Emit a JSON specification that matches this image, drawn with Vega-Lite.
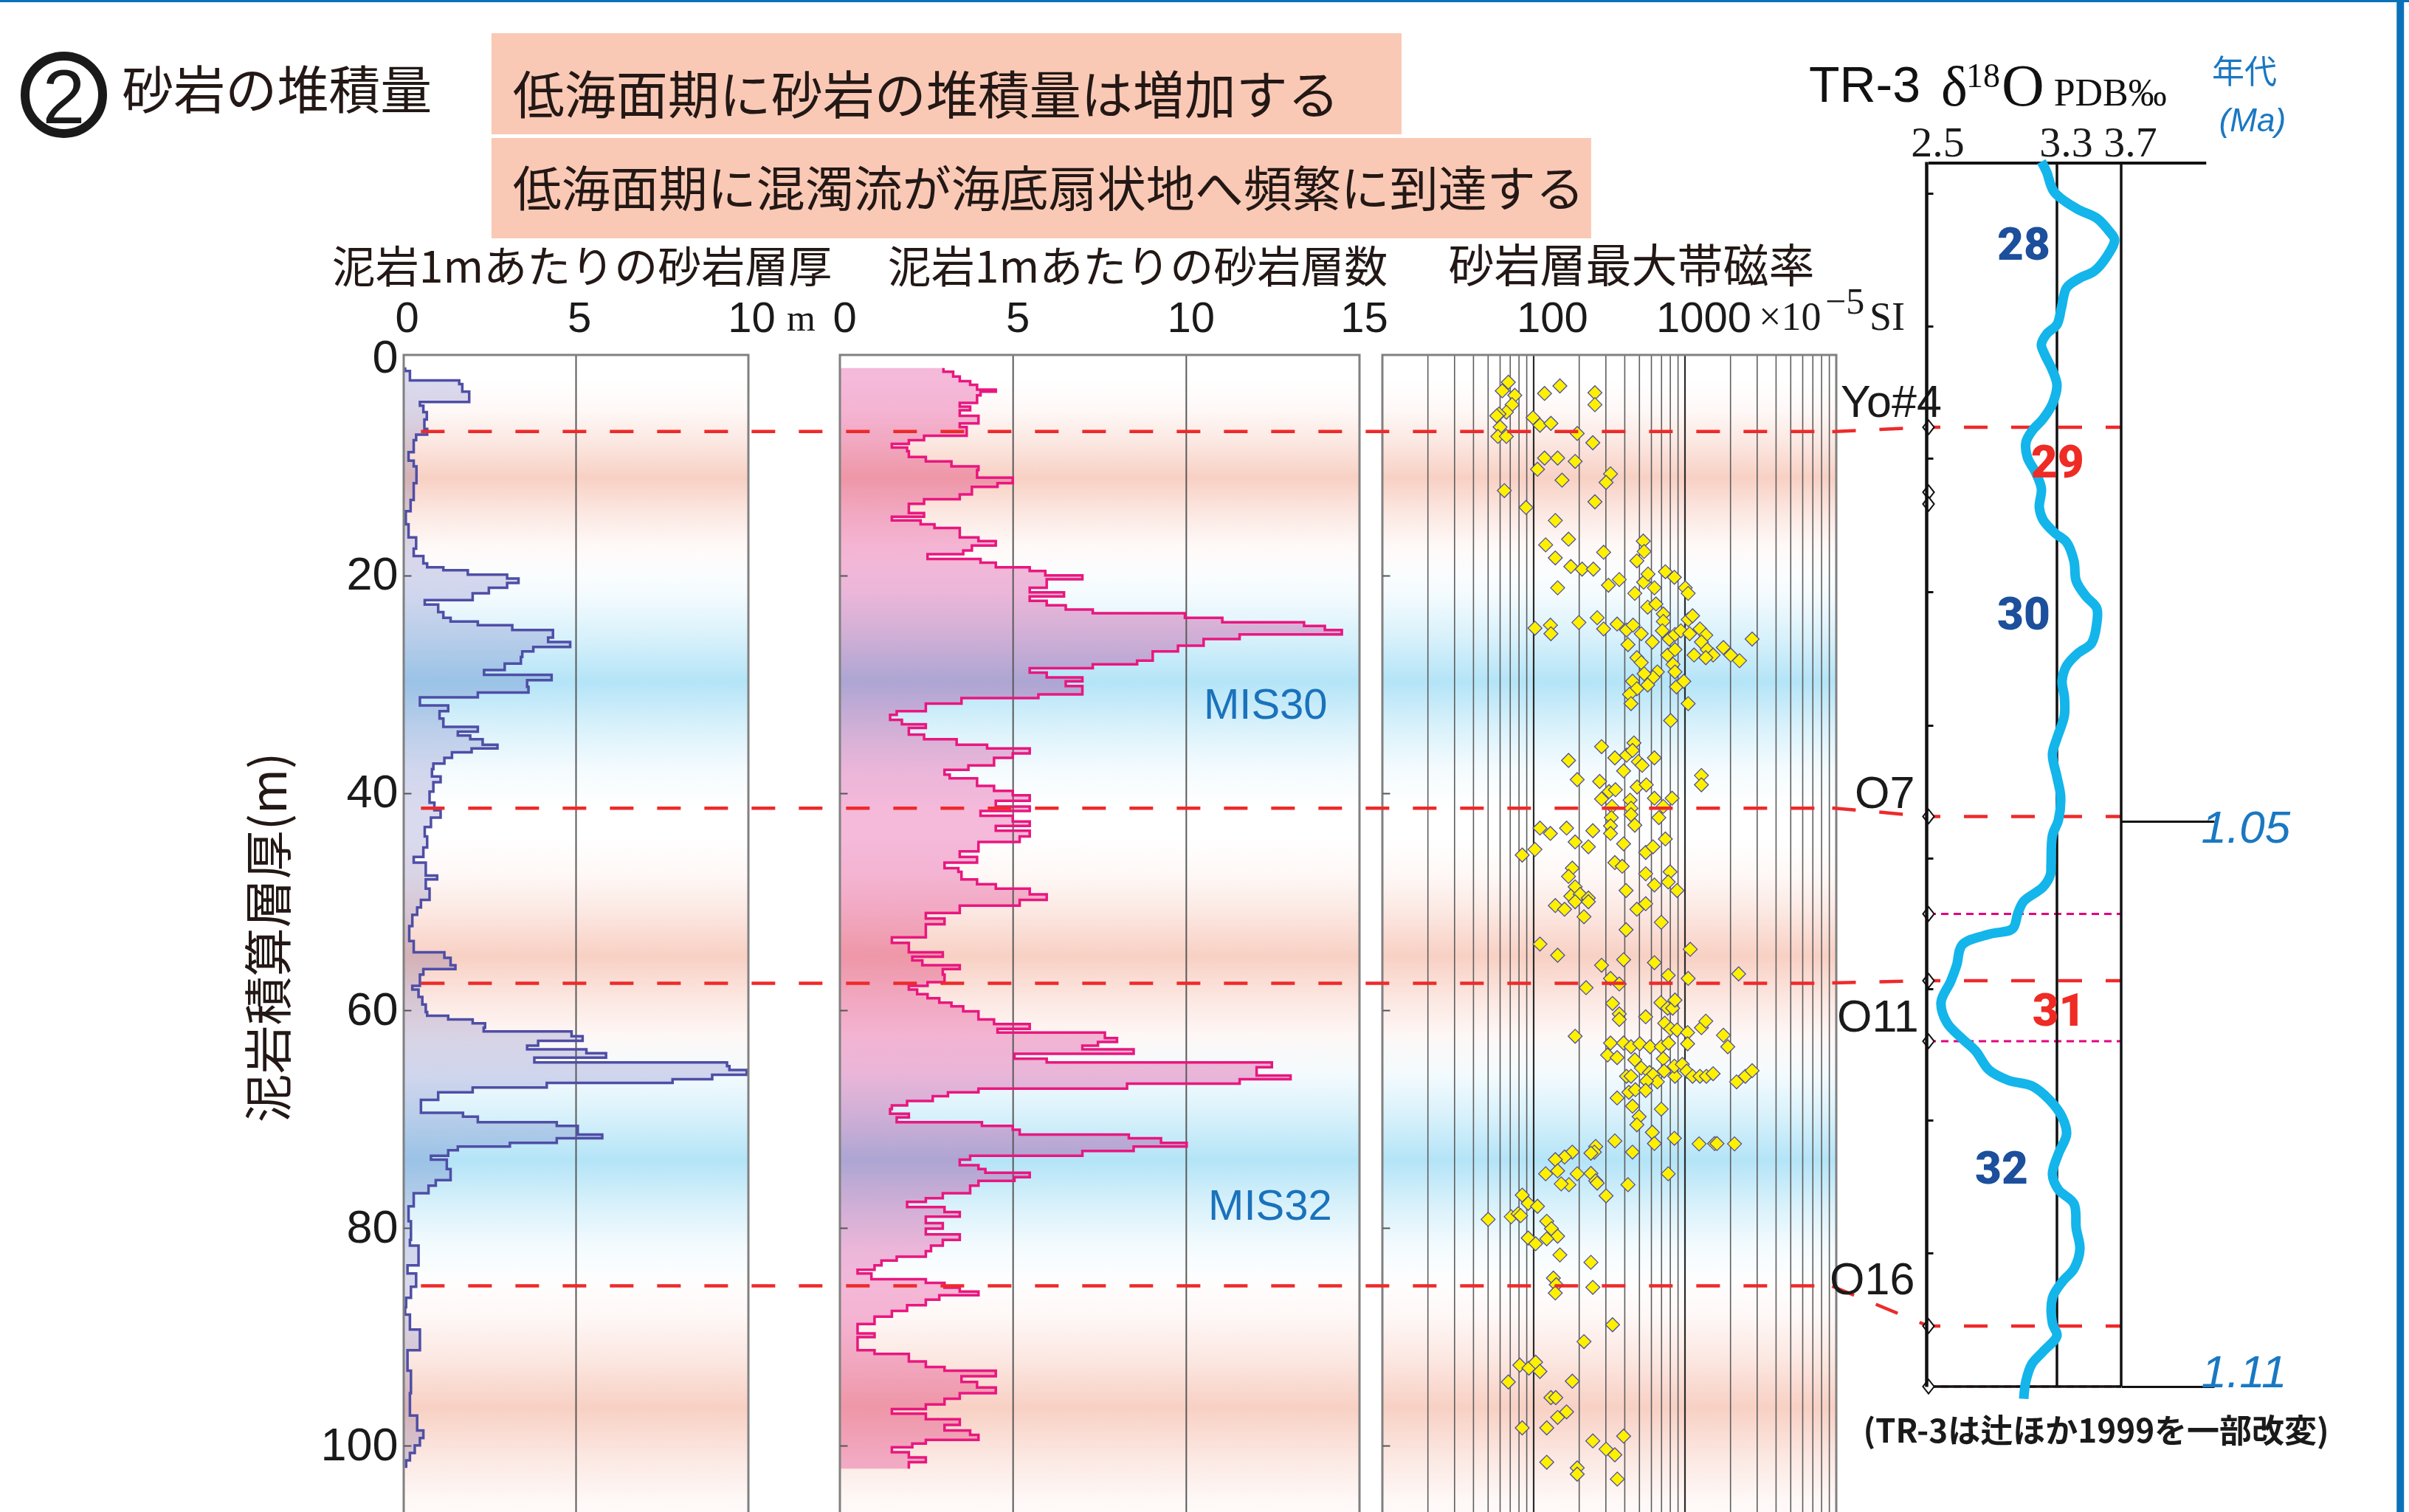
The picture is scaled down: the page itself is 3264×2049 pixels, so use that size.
{
  "$schema": "https://vega.github.io/schema/vega-lite/v6.json",
  "width": 3264,
  "height": 2049,
  "autosize": {"type": "none"},
  "padding": 0,
  "background": "#ffffff",
  "config": {
    "view": {"stroke": null},
    "axis": {"grid": false, "labelFlush": false, "labelOverlap": false, "labelBound": false, "titleFontWeight": "normal"}
  },
  "datasets": {
    "header": [
      {"line": 1, "text": "低海面期に砂岩の堆積量は増加する", "x0": 0.2040, "x1": 0.5818, "y0": 0.0220, "y1": 0.0888, "ty": 0.0757},
      {"line": 2, "text": "低海面期に混濁流が海底扇状地へ頻繁に到達する", "x0": 0.2040, "x1": 0.6605, "y0": 0.0913, "y1": 0.1576, "ty": 0.1367}
    ],
    "bands": [
      {"k": "pink", "d0": 2, "d1": 20},
      {"k": "blue", "d0": 18, "d1": 41.5},
      {"k": "pink", "d0": 44, "d1": 66},
      {"k": "blue", "d0": 62, "d1": 85.5},
      {"k": "pink", "d0": 84, "d1": 109}
    ],
    "p1": [
      {"d":0.86,"v":0.04},{"d":1.21,"v":0.18},{"d":2.07,"v":1.61},{"d":2.41,"v":1.7},{"d":3.1,"v":1.9},{"d":4.06,"v":0.47},{"d":4.4,"v":0.57},{"d":4.99,"v":0.67},{"d":5.67,"v":0.6},{"d":6.53,"v":0.68},{"d":7.05,"v":0.36},{"d":7.56,"v":0.29},{"d":8.66,"v":0.14},{"d":9.45,"v":0.29},{"d":9.97,"v":0.37},{"d":11.51,"v":0.29},{"d":13.06,"v":0.2},{"d":14.09,"v":0.06},{"d":15.3,"v":0.14},{"d":16.5,"v":0.36},{"d":17.53,"v":0.29},{"d":18.22,"v":0.57},{"d":18.9,"v":0.68},{"d":19.25,"v":1.15},{"d":19.52,"v":1.86},{"d":19.93,"v":3.0},{"d":20.28,"v":3.33},{"d":20.69,"v":3.0},{"d":21.14,"v":2.47},{"d":21.65,"v":2.0},{"d":22.27,"v":0.61},{"d":22.68,"v":1.0},{"d":23.37,"v":1.15},{"d":23.89,"v":1.36},{"d":24.23,"v":2.15},{"d":24.57,"v":3.15},{"d":25.02,"v":4.33},{"d":25.71,"v":4.19},{"d":26.12,"v":4.83},{"d":26.57,"v":3.76},{"d":26.98,"v":3.44},{"d":27.5,"v":3.4},{"d":28.11,"v":2.93},{"d":28.7,"v":2.33},{"d":29.14,"v":4.29},{"d":29.63,"v":3.58},{"d":30.24,"v":3.62},{"d":30.76,"v":2.15},{"d":31.21,"v":0.47},{"d":31.96,"v":1.29},{"d":32.48,"v":1.04},{"d":33.16,"v":1.15},{"d":33.92,"v":2.15},{"d":34.37,"v":1.57},{"d":34.71,"v":1.93},{"d":35.05,"v":2.29},{"d":35.57,"v":2.72},{"d":35.91,"v":1.97},{"d":36.26,"v":1.4},{"d":36.77,"v":1.18},{"d":37.29,"v":0.86},{"d":37.8,"v":0.82},{"d":38.49,"v":1.07},{"d":39.01,"v":0.86},{"d":39.87,"v":0.75},{"d":40.9,"v":0.89},{"d":41.58,"v":1.07},{"d":42.27,"v":0.79},{"d":43.13,"v":0.61},{"d":43.99,"v":0.68},{"d":45.02,"v":0.57},{"d":45.88,"v":0.29},{"d":46.4,"v":0.64},{"d":47.6,"v":0.97},{"d":47.94,"v":0.64},{"d":48.8,"v":0.75},{"d":49.83,"v":0.5},{"d":50.52,"v":0.39},{"d":51.2,"v":0.25},{"d":52.24,"v":0.16},{"d":53.61,"v":0.29},{"d":54.64,"v":1.18},{"d":55.16,"v":1.36},{"d":55.84,"v":1.5},{"d":56.19,"v":0.57},{"d":56.7,"v":0.47},{"d":57.73,"v":0.25},{"d":58.08,"v":0.43},{"d":58.76,"v":0.54},{"d":59.45,"v":0.64},{"d":60.14,"v":0.68},{"d":60.48,"v":1.29},{"d":60.82,"v":2.0},{"d":61.17,"v":2.36},{"d":61.58,"v":2.32},{"d":61.92,"v":4.87},{"d":62.37,"v":5.19},{"d":62.78,"v":3.9},{"d":63.23,"v":3.58},{"d":63.57,"v":5.3},{"d":63.92,"v":5.87},{"d":64.33,"v":3.79},{"d":64.78,"v":9.38},{"d":65.12,"v":9.45},{"d":65.46,"v":9.95},{"d":65.91,"v":8.95},{"d":66.32,"v":7.8},{"d":66.66,"v":4.15},{"d":67.08,"v":2.0},{"d":67.52,"v":1.0},{"d":68.21,"v":0.5},{"d":69.41,"v":1.72},{"d":69.76,"v":2.15},{"d":70.27,"v":4.44},{"d":70.61,"v":5.05},{"d":71.41,"v":5.76},{"d":71.75,"v":4.44},{"d":72.16,"v":3.08},{"d":72.5,"v":1.57},{"d":72.85,"v":1.29},{"d":73.36,"v":0.79},{"d":73.71,"v":1.25},{"d":74.57,"v":1.36},{"d":75.6,"v":0.93},{"d":76.11,"v":0.72},{"d":76.8,"v":0.29},{"d":78.0,"v":0.14},{"d":79.38,"v":0.21},{"d":81.09,"v":0.18},{"d":81.61,"v":0.43},{"d":83.43,"v":0.11},{"d":84.18,"v":0.36},{"d":85.39,"v":0.21},{"d":86.42,"v":0.07},{"d":87.28,"v":0.04},{"d":87.96,"v":0.18},{"d":89.34,"v":0.47},{"d":91.23,"v":0.11},{"d":93.12,"v":0.21},{"d":95.18,"v":0.18},{"d":97.24,"v":0.39},{"d":98.61,"v":0.57},{"d":99.3,"v":0.47},{"d":99.99,"v":0.32},{"d":100.67,"v":0.18},{"d":101.36,"v":0.07},{"d":102.05,"v":0.07}
    ],
    "p2": [
      {"d":0.93,"v":2.99},{"d":1.27,"v":3.27},{"d":1.72,"v":3.46},{"d":2.13,"v":3.76},{"d":2.48,"v":3.96},{"d":2.92,"v":4.5},{"d":3.1,"v":4.06},{"d":3.44,"v":3.96},{"d":4.13,"v":3.46},{"d":4.47,"v":3.76},{"d":4.81,"v":3.46},{"d":5.33,"v":4.0},{"d":6.02,"v":3.46},{"d":6.36,"v":3.66},{"d":7.15,"v":2.43},{"d":7.56,"v":1.99},{"d":7.91,"v":1.5},{"d":8.25,"v":1.94},{"d":8.59,"v":1.99},{"d":9.11,"v":2.48},{"d":9.52,"v":3.22},{"d":9.97,"v":4.0},{"d":10.31,"v":3.96},{"d":11.0,"v":4.99},{"d":11.52,"v":4.55},{"d":11.86,"v":3.81},{"d":12.55,"v":3.46},{"d":12.99,"v":2.43},{"d":13.41,"v":1.99},{"d":14.26,"v":2.43},{"d":14.61,"v":1.5},{"d":14.95,"v":2.33},{"d":15.3,"v":2.73},{"d":15.64,"v":3.46},{"d":16.5,"v":4.0},{"d":16.84,"v":4.5},{"d":17.25,"v":3.81},{"d":17.7,"v":3.56},{"d":18.04,"v":2.53},{"d":18.49,"v":4.06},{"d":18.83,"v":4.5},{"d":19.25,"v":5.48},{"d":19.59,"v":5.93},{"d":20.0,"v":7.0},{"d":20.35,"v":5.97},{"d":21.14,"v":5.48},{"d":21.55,"v":6.47},{"d":21.93,"v":5.48},{"d":22.34,"v":5.97},{"d":22.75,"v":6.52},{"d":23.13,"v":7.3},{"d":23.47,"v":9.96},{"d":23.89,"v":11.04},{"d":24.3,"v":13.4},{"d":24.64,"v":14.0},{"d":25.02,"v":14.49},{"d":25.43,"v":11.54},{"d":25.85,"v":10.5},{"d":26.46,"v":9.76},{"d":26.98,"v":9.03},{"d":27.84,"v":8.58},{"d":28.18,"v":7.3},{"d":28.53,"v":5.48},{"d":28.94,"v":5.97},{"d":29.38,"v":7.0},{"d":29.73,"v":6.52},{"d":30.17,"v":7.0},{"d":30.93,"v":5.73},{"d":31.28,"v":3.51},{"d":31.79,"v":2.48},{"d":32.48,"v":1.64},{"d":32.82,"v":1.45},{"d":33.27,"v":1.79},{"d":33.68,"v":2.48},{"d":34.02,"v":1.99},{"d":34.64,"v":2.43},{"d":35.05,"v":3.37},{"d":35.57,"v":4.25},{"d":35.91,"v":5.48},{"d":36.36,"v":4.99},{"d":36.77,"v":4.45},{"d":37.46,"v":3.71},{"d":37.87,"v":3.02},{"d":38.32,"v":3.17},{"d":38.66,"v":3.96},{"d":39.35,"v":4.45},{"d":39.8,"v":4.99},{"d":40.21,"v":5.48},{"d":40.73,"v":4.5},{"d":41.24,"v":5.48},{"d":41.65,"v":4.06},{"d":42.1,"v":4.99},{"d":42.62,"v":5.48},{"d":43.03,"v":4.5},{"d":43.47,"v":5.48},{"d":43.99,"v":5.19},{"d":44.51,"v":4.0},{"d":45.37,"v":3.46},{"d":45.88,"v":3.96},{"d":46.4,"v":3.02},{"d":46.91,"v":3.42},{"d":47.25,"v":3.51},{"d":47.94,"v":3.96},{"d":48.39,"v":4.5},{"d":48.8,"v":5.48},{"d":49.32,"v":5.97},{"d":49.83,"v":5.19},{"d":50.35,"v":3.46},{"d":51.03,"v":2.48},{"d":51.55,"v":3.02},{"d":52.07,"v":2.48},{"d":53.27,"v":1.5},{"d":53.78,"v":1.99},{"d":54.64,"v":2.97},{"d":55.05,"v":2.09},{"d":55.4,"v":2.38},{"d":55.84,"v":3.46},{"d":56.19,"v":2.97},{"d":56.7,"v":3.02},{"d":57.39,"v":2.53},{"d":57.73,"v":1.99},{"d":58.08,"v":2.23},{"d":58.49,"v":2.53},{"d":58.87,"v":2.87},{"d":59.28,"v":3.22},{"d":59.62,"v":3.56},{"d":60.07,"v":4.0},{"d":60.82,"v":4.45},{"d":61.24,"v":5.48},{"d":61.68,"v":4.55},{"d":62.03,"v":7.65},{"d":62.54,"v":8.0},{"d":62.89,"v":7.45},{"d":63.23,"v":7.0},{"d":63.57,"v":8.48},{"d":63.98,"v":5.04},{"d":64.43,"v":5.97},{"d":64.78,"v":12.47},{"d":65.22,"v":12.03},{"d":65.98,"v":13.01},{"d":66.32,"v":11.54},{"d":66.73,"v":8.29},{"d":67.18,"v":4.0},{"d":67.52,"v":3.12},{"d":67.87,"v":2.68},{"d":68.31,"v":1.94},{"d":68.73,"v":1.5},{"d":69.07,"v":1.45},{"d":69.48,"v":1.99},{"d":69.82,"v":1.64},{"d":70.27,"v":4.1},{"d":70.61,"v":4.99},{"d":70.96,"v":5.19},{"d":71.41,"v":8.34},{"d":71.75,"v":9.27},{"d":72.16,"v":10.01},{"d":72.5,"v":8.48},{"d":72.92,"v":7.0},{"d":73.36,"v":3.76},{"d":73.71,"v":3.46},{"d":74.22,"v":4.0},{"d":74.57,"v":4.2},{"d":74.91,"v":5.48},{"d":75.32,"v":5.04},{"d":75.66,"v":4.0},{"d":76.11,"v":3.76},{"d":76.8,"v":2.97},{"d":77.25,"v":2.48},{"d":77.59,"v":1.94},{"d":78.07,"v":3.02},{"d":78.52,"v":3.46},{"d":78.96,"v":2.48},{"d":79.55,"v":2.97},{"d":80.06,"v":2.48},{"d":80.58,"v":3.46},{"d":81.09,"v":2.97},{"d":81.61,"v":2.63},{"d":82.12,"v":2.48},{"d":82.64,"v":1.64},{"d":82.98,"v":1.2},{"d":83.43,"v":1.0},{"d":83.84,"v":0.51},{"d":84.18,"v":0.91},{"d":84.7,"v":2.48},{"d":85.04,"v":3.02},{"d":85.49,"v":3.46},{"d":85.83,"v":4.0},{"d":86.18,"v":2.87},{"d":86.59,"v":2.48},{"d":87.1,"v":1.94},{"d":87.62,"v":1.5},{"d":88.14,"v":1.0},{"d":88.82,"v":0.51},{"d":89.68,"v":1.0},{"d":90.02,"v":0.51},{"d":91.23,"v":1.0},{"d":91.57,"v":1.99},{"d":92.26,"v":2.48},{"d":92.77,"v":3.02},{"d":93.12,"v":4.5},{"d":93.63,"v":3.51},{"d":94.15,"v":3.96},{"d":94.66,"v":4.5},{"d":95.18,"v":3.46},{"d":95.69,"v":3.02},{"d":96.21,"v":2.48},{"d":96.65,"v":1.5},{"d":97.07,"v":2.48},{"d":97.58,"v":3.46},{"d":98.1,"v":3.02},{"d":98.61,"v":3.76},{"d":99.02,"v":4.0},{"d":99.47,"v":2.48},{"d":99.81,"v":2.09},{"d":100.16,"v":1.5},{"d":100.61,"v":1.99},{"d":101.09,"v":2.48},{"d":101.53,"v":1.99},{"d":102.12,"v":1.99}
    ],
    "p3": [
      {"m":68,"d":2.24},{"m":62,"d":3.03},{"m":75,"d":3.44},{"m":72,"d":4.3},{"m":66,"d":4.99},{"m":59,"d":5.16},{"m":57,"d":5.33},{"m":60,"d":6.36},{"m":58,"d":7.22},{"m":66,"d":7.22},{"m":118,"d":3.27},{"m":149,"d":2.58},{"m":254,"d":3.2},{"m":254,"d":4.3},{"m":99,"d":5.5},{"m":110,"d":6.19},{"m":130,"d":6.02},{"m":194,"d":6.95},{"m":246,"d":7.8},{"m":118,"d":9.21},{"m":144,"d":9.21},{"m":188,"d":9.52},{"m":106,"d":10.24},{"m":154,"d":11.24},{"m":322,"d":10.66},{"m":301,"d":11.45},{"m":64,"d":12.2},{"m":89,"d":13.75},{"m":254,"d":13.23},{"m":139,"d":14.95},{"m":170,"d":16.67},{"m":120,"d":17.19},{"m":139,"d":18.39},{"m":290,"d":17.87},{"m":530,"d":16.84},{"m":537,"d":17.8},{"m":481,"d":18.66},{"m":176,"d":19.18},{"m":209,"d":19.42},{"m":248,"d":19.42},{"m":144,"d":21.14},{"m":312,"d":20.9},{"m":368,"d":20.38},{"m":466,"d":21.65},{"m":533,"d":20.62},{"m":570,"d":19.87},{"m":628,"d":21.14},{"m":742,"d":19.66},{"m":851,"d":20.17},{"m":1004,"d":21.14},{"m":1050,"d":21.65},{"m":567,"d":22.92},{"m":643,"d":22.62},{"m":102,"d":24.85},{"m":129,"d":24.57},{"m":130,"d":25.36},{"m":199,"d":24.33},{"m":263,"d":23.89},{"m":290,"d":24.92},{"m":356,"d":24.47},{"m":411,"d":25.02},{"m":454,"d":24.57},{"m":514,"d":25.36},{"m":609,"d":26.12},{"m":420,"d":26.36},{"m":719,"d":23.54},{"m":719,"d":24.23},{"m":709,"d":25.09},{"m":786,"d":25.85},{"m":859,"d":25.43},{"m":939,"d":25.09},{"m":1050,"d":24.06},{"m":1123,"d":23.71},{"m":1074,"d":25.36},{"m":1256,"d":24.92},{"m":1373,"d":25.5},{"m":1284,"d":26.12},{"m":1403,"d":26.81},{"m":1535,"d":27.32},{"m":1373,"d":27.56},{"m":1148,"d":27.32},{"m":1794,"d":26.63},{"m":2006,"d":27.32},{"m":2293,"d":27.84},{"m":2779,"d":25.85},{"m":768,"d":27.32},{"m":859,"d":26.81},{"m":481,"d":27.56},{"m":514,"d":28.01},{"m":833,"d":28.18},{"m":859,"d":28.87},{"m":657,"d":28.87},{"m":615,"d":29.38},{"m":537,"d":29.04},{"m":567,"d":30.07},{"m":450,"d":29.73},{"m":481,"d":30.42},{"m":430,"d":30.93},{"m":440,"d":31.79},{"m":878,"d":30.24},{"m":982,"d":29.73},{"m":1050,"d":31.79},{"m":804,"d":33.34},{"m":460,"d":35.4},{"m":281,"d":35.74},{"m":170,"d":37.01},{"m":344,"d":36.77},{"m":411,"d":36.53},{"m":450,"d":36.09},{"m":492,"d":37.12},{"m":521,"d":37.46},{"m":628,"d":36.77},{"m":393,"d":37.97},{"m":194,"d":38.77},{"m":273,"d":38.94},{"m":315,"d":39.87},{"m":347,"d":39.7},{"m":483,"d":39.45},{"m":555,"d":39.25},{"m":1284,"d":38.39},{"m":1284,"d":39.25},{"m":281,"d":40.55},{"m":329,"d":41.24},{"m":434,"d":40.66},{"m":440,"d":41.41},{"m":628,"d":40.48},{"m":719,"d":41.24},{"m":822,"d":40.48},{"m":326,"d":42.27},{"m":440,"d":42.0},{"m":672,"d":42.27},{"m":466,"d":42.96},{"m":322,"d":43.03},{"m":322,"d":43.72},{"m":110,"d":43.23},{"m":129,"d":43.72},{"m":165,"d":43.23},{"m":188,"d":44.5},{"m":246,"d":43.47},{"m":230,"d":44.95},{"m":393,"d":44.68},{"m":84,"d":45.71},{"m":102,"d":45.19},{"m":742,"d":44.23},{"m":550,"d":45.47},{"m":615,"d":44.95},{"m":344,"d":46.4},{"m":385,"d":46.74},{"m":180,"d":46.91},{"m":170,"d":47.67},{"m":550,"d":47.43},{"m":797,"d":47.25},{"m":628,"d":48.46},{"m":775,"d":48.18},{"m":886,"d":48.97},{"m":188,"d":48.63},{"m":176,"d":49.49},{"m":203,"d":49.32},{"m":188,"d":50.0},{"m":230,"d":49.66},{"m":230,"d":50.0},{"m":139,"d":50.35},{"m":160,"d":50.69},{"m":408,"d":48.97},{"m":481,"d":50.69},{"m":550,"d":50.18},{"m":215,"d":51.38},{"m":697,"d":51.89},{"m":408,"d":52.58},
      {"m":110,"d":53.89},{"m":144,"d":54.92},{"m":1083,"d":54.37},{"m":281,"d":55.84},{"m":393,"d":55.33},{"m":628,"d":55.6},{"m":322,"d":57.05},{"m":368,"d":57.56},{"m":222,"d":57.9},{"m":775,"d":56.77},{"m":1050,"d":57.05},{"m":2263,"d":56.63},{"m":332,"d":59.35},{"m":368,"d":60.31},{"m":368,"d":60.82},{"m":550,"d":60.58},{"m":693,"d":59.28},{"m":768,"d":59.79},{"m":829,"d":59.79},{"m":859,"d":59.04},{"m":188,"d":62.37},{"m":735,"d":61.17},{"m":804,"d":61.68},{"m":886,"d":61.79},{"m":1041,"d":62.03},{"m":1284,"d":61.58},{"m":1373,"d":60.98},{"m":1794,"d":62.27},{"m":1918,"d":63.33},{"m":322,"d":62.99},{"m":393,"d":62.99},{"m":440,"d":63.33},{"m":503,"d":63.06},{"m":588,"d":63.33},{"m":697,"d":63.33},{"m":779,"d":62.99},{"m":1041,"d":63.06},{"m":308,"d":64.09},{"m":356,"d":64.33},{"m":466,"d":64.53},{"m":719,"d":64.43},{"m":514,"d":65.29},{"m":583,"d":65.7},{"m":615,"d":65.91},{"m":728,"d":65.57},{"m":859,"d":66.05},{"m":851,"d":65.12},{"m":960,"d":64.95},{"m":1027,"d":65.57},{"m":1123,"d":66.05},{"m":1256,"d":66.05},{"m":1385,"d":66.05},{"m":1535,"d":65.81},{"m":2193,"d":66.56},{"m":2507,"d":66.05},{"m":2779,"d":65.53},{"m":411,"d":66.05},{"m":440,"d":66.05},{"m":657,"d":66.56},{"m":557,"d":66.49},{"m":426,"d":67.52},{"m":470,"d":67.28},{"m":550,"d":67.35},{"m":356,"d":68.04},{"m":450,"d":68.79},{"m":697,"d":69.07},{"m":498,"d":69.76},{"m":481,"d":70.51},{"m":609,"d":71.2},{"m":628,"d":72.23},{"m":851,"d":71.75},{"m":344,"d":71.99},{"m":1239,"d":72.26},{"m":1570,"d":72.23},{"m":1627,"d":72.23},{"m":2125,"d":72.26},{"m":450,"d":73.02},{"m":257,"d":72.5},{"m":252,"d":73.02},{"m":239,"d":73.12},{"m":180,"d":73.02},{"m":160,"d":73.47},{"m":139,"d":73.71},{"m":144,"d":74.74},{"m":120,"d":75.01},{"m":194,"d":75.01},{"m":239,"d":74.98},{"m":257,"d":75.66},{"m":263,"d":75.87},{"m":171,"d":76.01},{"m":152,"d":75.94},{"m":775,"d":75.01},{"m":420,"d":76.01},{"m":301,"d":77.04},{"m":84,"d":76.97},{"m":92,"d":77.73},{"m":106,"d":78.0},{"m":50,"d":79.2},{"m":71,"d":78.96},{"m":79,"d":78.69},{"m":82,"d":78.86},{"m":122,"d":79.38},{"m":131,"d":80.06},{"m":144,"d":80.75},{"m":122,"d":80.99},{"m":92,"d":80.92},{"m":103,"d":81.44},{"m":149,"d":82.47},{"m":239,"d":83.15},{"m":135,"d":84.6},{"m":141,"d":85.21},{"m":139,"d":85.97},{"m":246,"d":85.45},{"m":332,"d":88.89},{"m":215,"d":90.44},{"m":81,"d":92.6},{"m":93,"d":92.88},{"m":103,"d":92.33},{"m":110,"d":93.18},{"m":68,"d":94.15},{"m":180,"d":94.08},{"m":130,"d":95.59},{"m":140,"d":95.59},{"m":144,"d":97.41},{"m":165,"d":96.9},{"m":84,"d":98.37},{"m":122,"d":98.37},{"m":246,"d":99.57},{"m":301,"d":100.33},{"m":344,"d":100.85},{"m":393,"d":99.13},{"m":122,"d":101.53},{"m":194,"d":102.05},{"m":194,"d":102.63},{"m":357,"d":103.08}
    ],
    "logGrid": [
      {"g":20},{"g":30},{"g":40},{"g":50},{"g":60},{"g":70},{"g":80},{"g":90},{"g":100},
      {"g":200},{"g":300},{"g":400},{"g":500},{"g":600},{"g":700},{"g":800},{"g":900},{"g":1000},
      {"g":2000},{"g":3000},{"g":4000},{"g":5000},{"g":6000},{"g":7000},{"g":8000},{"g":9000}
    ],
    "mispanel": [
      {"n": "MIS30", "d": 32.0, "v": 12.29},
      {"n": "MIS32", "d": 78.1, "v": 12.42}
    ],
    "tephra": [
      {"t": "Yo#4", "d": 6.77, "a": 1.00819, "a0": 1.00866, "lx": 1.953, "la": 1.0071},
      {"t": "O7", "d": 41.4, "a": 1.0495, "a0": 1.0486, "lx": 2.04, "la": 1.0486},
      {"t": "O11", "d": 57.49, "a": 1.06693, "a0": 1.06717, "lx": 1.93, "la": 1.0723},
      {"t": "O16", "d": 85.32, "a": 1.10358, "a0": 1.09935, "lx": 1.884, "la": 1.1002}
    ],
    "ties": [
      {"a": 1.00819}, {"a": 1.01509}, {"a": 1.01634}, {"a": 1.0495}, {"a": 1.05984},
      {"a": 1.06693}, {"a": 1.07335}, {"a": 1.10358}, {"a": 1.11}
    ],
    "dots": [{"a": 1.05984}, {"a": 1.07335}, {"a": 1.11}],
    "mis": [
      {"n": "28", "a": 0.9889, "x": 3.093, "k": "interglacial"},
      {"n": "29", "a": 1.012, "x": 3.303, "k": "glacial"},
      {"n": "30", "a": 1.0282, "x": 3.093, "k": "interglacial"},
      {"n": "31", "a": 1.0702, "x": 3.312, "k": "glacial"},
      {"n": "32", "a": 1.087, "x": 2.955, "k": "interglacial"}
    ],
    "d18o": [
      {"o":3.203,"a":0.98},{"o":3.236,"a":0.9811},{"o":3.282,"a":0.9832},{"o":3.424,"a":0.985},{"o":3.548,"a":0.986},{"o":3.626,"a":0.9874},{"o":3.659,"a":0.9883},{"o":3.613,"a":0.99},{"o":3.534,"a":0.9916},{"o":3.438,"a":0.9924},{"o":3.36,"a":0.9934},{"o":3.328,"a":0.9955},{"o":3.3,"a":0.9973},{"o":3.236,"a":0.9983},{"o":3.203,"a":0.9994},{"o":3.222,"a":1.0004},{"o":3.268,"a":1.002},{"o":3.3,"a":1.0037},{"o":3.272,"a":1.0057},{"o":3.213,"a":1.0073},{"o":3.144,"a":1.0086},{"o":3.107,"a":1.0098},{"o":3.116,"a":1.0114},{"o":3.167,"a":1.013},{"o":3.203,"a":1.0147},{"o":3.19,"a":1.0167},{"o":3.213,"a":1.018},{"o":3.286,"a":1.0194},{"o":3.36,"a":1.0204},{"o":3.406,"a":1.0224},{"o":3.42,"a":1.0245},{"o":3.479,"a":1.0261},{"o":3.548,"a":1.0274},{"o":3.548,"a":1.029},{"o":3.516,"a":1.0311},{"o":3.429,"a":1.0322},{"o":3.36,"a":1.0335},{"o":3.332,"a":1.0351},{"o":3.346,"a":1.0368},{"o":3.346,"a":1.0388},{"o":3.3,"a":1.0412},{"o":3.272,"a":1.0429},{"o":3.3,"a":1.0453},{"o":3.323,"a":1.0474},{"o":3.309,"a":1.0499},{"o":3.272,"a":1.0515},{"o":3.263,"a":1.0547},{"o":3.259,"a":1.0557},{"o":3.213,"a":1.057},{"o":3.093,"a":1.0585},{"o":3.056,"a":1.0598},{"o":3.024,"a":1.0614},{"o":2.877,"a":1.062},{"o":2.711,"a":1.0631},{"o":2.675,"a":1.0653},{"o":2.638,"a":1.067},{"o":2.578,"a":1.0692},{"o":2.615,"a":1.0714},{"o":2.711,"a":1.0731},{"o":2.794,"a":1.0744},{"o":2.877,"a":1.0764},{"o":2.997,"a":1.0775},{"o":3.144,"a":1.0781},{"o":3.249,"a":1.0795},{"o":3.332,"a":1.0814},{"o":3.36,"a":1.0832},{"o":3.309,"a":1.0853},{"o":3.272,"a":1.0875},{"o":3.309,"a":1.0891},{"o":3.406,"a":1.0906},{"o":3.42,"a":1.0932},{"o":3.443,"a":1.0954},{"o":3.406,"a":1.0975},{"o":3.332,"a":1.0989},{"o":3.272,"a":1.1006},{"o":3.272,"a":1.1033},{"o":3.3,"a":1.1046},{"o":3.213,"a":1.1063},{"o":3.144,"a":1.1076},{"o":3.107,"a":1.1094},{"o":3.093,"a":1.1113}
    ]
  },
  "layer": [
    {
      "data": {"values": [{}]},
      "mark": {"type": "rule", "stroke": "#0b72b9", "strokeWidth": 3},
      "encoding": {
        "x": {"datum": 0, "type": "quantitative", "scale": {"domain": [0, 1], "range": [0, 3264], "nice": false, "zero": false}, "axis": null},
        "x2": {"datum": 1},
        "y": {"datum": 0.0007, "type": "quantitative", "scale": {"domain": [0, 1], "range": [0, 2049], "nice": false, "zero": false}, "axis": null}
      }
    },
    {
      "data": {"values": [{}]},
      "mark": {"type": "rule", "stroke": "#0b72b9", "strokeWidth": 10},
      "encoding": {
        "x": {"datum": 0.9964, "type": "quantitative", "scale": {"domain": [0, 1], "range": [0, 3264], "nice": false, "zero": false}, "axis": null},
        "y": {"datum": 0, "type": "quantitative", "scale": {"domain": [0, 1], "range": [0, 2049], "nice": false, "zero": false}, "axis": null},
        "y2": {"datum": 1}
      }
    },
    {
      "data": {"name": "header"},
      "mark": {"type": "rect", "fill": "#fac9b5"},
      "encoding": {
        "x": {"field": "x0", "type": "quantitative", "scale": {"domain": [0, 1], "range": [0, 3264], "nice": false, "zero": false}, "axis": null},
        "x2": {"field": "x1"},
        "y": {"field": "y0", "type": "quantitative", "scale": {"domain": [0, 1], "range": [0, 2049], "nice": false, "zero": false}, "axis": null},
        "y2": {"field": "y1"}
      }
    },
    {
      "data": {"name": "header"},
      "transform": [{"filter": "datum.line == 1"}],
      "mark": {"type": "text", "align": "left", "baseline": "alphabetic", "dx": 29, "font": "Noto Sans CJK JP, sans-serif", "fontSize": 70, "fill": "#231815"},
      "encoding": {
        "x": {"field": "x0", "type": "quantitative", "scale": {"domain": [0, 1], "range": [0, 3264], "nice": false, "zero": false}, "axis": null},
        "y": {"field": "ty", "type": "quantitative", "scale": {"domain": [0, 1], "range": [0, 2049], "nice": false, "zero": false}, "axis": null},
        "text": {"field": "text"}
      }
    },
    {
      "data": {"name": "header"},
      "transform": [{"filter": "datum.line == 2"}],
      "mark": {"type": "text", "align": "left", "baseline": "alphabetic", "dx": 29, "font": "Noto Sans CJK JP, sans-serif", "fontSize": 66, "fill": "#231815"},
      "encoding": {
        "x": {"field": "x0", "type": "quantitative", "scale": {"domain": [0, 1], "range": [0, 3264], "nice": false, "zero": false}, "axis": null},
        "y": {"field": "ty", "type": "quantitative", "scale": {"domain": [0, 1], "range": [0, 2049], "nice": false, "zero": false}, "axis": null},
        "text": {"field": "text"}
      }
    },
    {
      "data": {"values": [{}]},
      "mark": {"type": "point", "shape": "circle", "filled": false, "stroke": "#1a1a1a", "strokeWidth": 12, "size": 11025, "opacity": 1},
      "encoding": {
        "x": {"datum": 0.0265, "type": "quantitative", "scale": {"domain": [0, 1], "range": [0, 3264], "nice": false, "zero": false}, "axis": null},
        "y": {"datum": 0.0627, "type": "quantitative", "scale": {"domain": [0, 1], "range": [0, 2049], "nice": false, "zero": false}, "axis": null}
      }
    },
    {
      "data": {"values": [{}]},
      "mark": {"type": "text", "text": "2", "align": "center", "baseline": "alphabetic", "font": "Liberation Sans, Arial, sans-serif", "fontSize": 104, "fill": "#1a1a1a"},
      "encoding": {
        "x": {"datum": 0.0265, "type": "quantitative", "scale": {"domain": [0, 1], "range": [0, 3264], "nice": false, "zero": false}, "axis": null},
        "y": {"datum": 0.0815, "type": "quantitative", "scale": {"domain": [0, 1], "range": [0, 2049], "nice": false, "zero": false}, "axis": null}
      }
    },
    {
      "data": {"values": [{}]},
      "mark": {"type": "text", "text": "砂岩の堆積量", "align": "left", "baseline": "alphabetic", "font": "Noto Sans CJK JP, sans-serif", "fontSize": 70, "fill": "#231815"},
      "encoding": {
        "x": {"datum": 0.0506, "type": "quantitative", "scale": {"domain": [0, 1], "range": [0, 3264], "nice": false, "zero": false}, "axis": null},
        "y": {"datum": 0.0722, "type": "quantitative", "scale": {"domain": [0, 1], "range": [0, 2049], "nice": false, "zero": false}, "axis": null}
      }
    },

    {
      "data": {"name": "bands"},
      "transform": [{"filter": "datum.k == 'pink'"}],
      "mark": {"type": "rect", "fill": {"gradient": "linear", "x1": 0, "y1": 0, "x2": 0, "y2": 1, "stops": [{"offset": 0, "color": "rgba(248,208,196,0)"}, {"offset": 0.16, "color": "rgba(248,208,196,0.15)"}, {"offset": 0.32, "color": "rgba(248,208,196,0.5)"}, {"offset": 0.5, "color": "rgba(248,208,196,1)"}, {"offset": 0.68, "color": "rgba(248,208,196,0.5)"}, {"offset": 0.84, "color": "rgba(248,208,196,0.15)"}, {"offset": 1, "color": "rgba(248,208,196,0)"}]}},
      "encoding": {
        "x": {"datum": 0, "type": "quantitative", "scale": {"domain": [0, 10], "range": [547, 1014], "nice": false, "zero": false}, "axis": null},
        "x2": {"datum": 10},
        "y": {"field": "d0", "type": "quantitative", "scale": {"domain": [0, 100], "range": [485, 1959], "nice": false, "zero": false}, "axis": null},
        "y2": {"field": "d1"}
      }
    },
    {
      "data": {"name": "bands"},
      "transform": [{"filter": "datum.k == 'blue'"}],
      "mark": {"type": "rect", "fill": {"gradient": "linear", "x1": 0, "y1": 0, "x2": 0, "y2": 1, "stops": [{"offset": 0, "color": "rgba(180,228,247,0)"}, {"offset": 0.16, "color": "rgba(180,228,247,0.15)"}, {"offset": 0.32, "color": "rgba(180,228,247,0.5)"}, {"offset": 0.5, "color": "rgba(180,228,247,1)"}, {"offset": 0.68, "color": "rgba(180,228,247,0.5)"}, {"offset": 0.84, "color": "rgba(180,228,247,0.15)"}, {"offset": 1, "color": "rgba(180,228,247,0)"}]}},
      "encoding": {
        "x": {"datum": 0, "type": "quantitative", "scale": {"domain": [0, 10], "range": [547, 1014], "nice": false, "zero": false}, "axis": null},
        "x2": {"datum": 10},
        "y": {"field": "d0", "type": "quantitative", "scale": {"domain": [0, 100], "range": [485, 1959], "nice": false, "zero": false}, "axis": null},
        "y2": {"field": "d1"}
      }
    },
    {
      "data": {"name": "p1"},
      "mark": {"type": "area", "orient": "horizontal", "interpolate": "step-before", "fill": "#dadaee", "blend": "multiply"},
      "encoding": {
        "y": {"field": "d", "type": "quantitative", "scale": {"domain": [0, 100], "range": [485, 1959], "nice": false, "zero": false}, "axis": null},
        "x": {"field": "v", "type": "quantitative", "stack": null, "scale": {"domain": [0, 10], "range": [547, 1014], "nice": false, "zero": false}, "axis": null},
        "x2": {"datum": 0}
      }
    },
    {
      "data": {"values": [{}]},
      "mark": {"type": "rule", "stroke": "#5a5a5a", "strokeWidth": 2},
      "encoding": {
        "x": {"datum": 5, "type": "quantitative", "scale": {"domain": [0, 10], "range": [547, 1014], "nice": false, "zero": false}, "axis": null},
        "y": {"datum": -0.27, "type": "quantitative", "scale": {"domain": [0, 100], "range": [485, 1959], "nice": false, "zero": false},
              "axis": {"orient": "right", "offset": -2717, "values": [20, 40, 60, 80, 100], "domain": false, "ticks": true, "tickSize": 10, "tickWidth": 2, "tickColor": "#555555", "labels": false, "title": null, "zindex": 1}},
        "y2": {"datum": 112}
      }
    },
    {
      "data": {"name": "p1"},
      "mark": {"type": "line", "interpolate": "step-before", "stroke": "#4e4ea6", "strokeWidth": 3.5},
      "encoding": {
        "y": {"field": "d", "type": "quantitative", "scale": {"domain": [0, 100], "range": [485, 1959], "nice": false, "zero": false}, "axis": null},
        "x": {"field": "v", "type": "quantitative", "scale": {"domain": [0, 10], "range": [547, 1014], "nice": false, "zero": false}, "axis": null},
        "order": {"field": "d", "type": "quantitative"}
      }
    },
    {
      "data": {"values": [{}]},
      "mark": {"type": "rect", "filled": false, "stroke": "#808080", "strokeWidth": 3},
      "encoding": {
        "x": {"datum": 0, "type": "quantitative", "scale": {"domain": [0, 10], "range": [547, 1014], "nice": false, "zero": false},
              "axis": {"orient": "top", "offset": -432, "values": [0, 5, 10], "format": "d", "domain": false, "ticks": false, "labelPadding": 0, "labelBaseline": "middle", "labelAlign": "center", "labelOffset": 4, "labelFont": "Liberation Sans, Arial, sans-serif", "labelFontSize": 58, "labelColor": "#1a1a1a",
                       "title": "泥岩1mあたりの砂岩層厚", "titleFont": "Noto Sans CJK JP, sans-serif", "titleFontSize": 59, "titleColor": "#231815", "titleX": 788, "titleY": -50, "titleAlign": "center", "titleBaseline": "alphabetic", "titleAngle": 0}},
        "x2": {"datum": 10},
        "y": {"datum": -0.27, "type": "quantitative", "scale": {"domain": [0, 100], "range": [485, 1959], "nice": false, "zero": false},
              "axis": {"orient": "left", "offset": -547, "values": [0, 20, 40, 60, 80, 100], "format": "d", "domain": false, "ticks": false, "labelPadding": 8, "labelAlign": "right", "labelBaseline": "middle", "labelFont": "Liberation Sans, Arial, sans-serif", "labelFontSize": 63, "labelColor": "#1a1a1a",
                       "title": "泥岩積算層厚(m)", "titleFont": "Noto Sans CJK JP, sans-serif", "titleFontSize": 66, "titleColor": "#231815", "titleAngle": -90, "titleX": -180, "titleY": 1270, "titleAlign": "center", "titleBaseline": "middle"}},
        "y2": {"datum": 112}
      }
    },
    {
      "data": {"values": [{}]},
      "mark": {"type": "text", "text": "m", "align": "left", "baseline": "alphabetic", "dx": 52, "font": "Liberation Serif, DejaVu Serif, serif", "fontSize": 50, "fill": "#1a1a1a"},
      "encoding": {
        "x": {"datum": 10, "type": "quantitative", "scale": {"domain": [0, 10], "range": [547, 1014], "nice": false, "zero": false}, "axis": null},
        "y": {"datum": -2.51, "type": "quantitative", "scale": {"domain": [0, 100], "range": [485, 1959], "nice": false, "zero": false}, "axis": null}
      }
    },

    {
      "data": {"name": "bands"},
      "transform": [{"filter": "datum.k == 'pink'"}],
      "mark": {"type": "rect", "fill": {"gradient": "linear", "x1": 0, "y1": 0, "x2": 0, "y2": 1, "stops": [{"offset": 0, "color": "rgba(248,208,196,0)"}, {"offset": 0.16, "color": "rgba(248,208,196,0.15)"}, {"offset": 0.32, "color": "rgba(248,208,196,0.5)"}, {"offset": 0.5, "color": "rgba(248,208,196,1)"}, {"offset": 0.68, "color": "rgba(248,208,196,0.5)"}, {"offset": 0.84, "color": "rgba(248,208,196,0.15)"}, {"offset": 1, "color": "rgba(248,208,196,0)"}]}},
      "encoding": {
        "x": {"datum": 0, "type": "quantitative", "scale": {"domain": [0, 15], "range": [1138, 1842], "nice": false, "zero": false}, "axis": null},
        "x2": {"datum": 15},
        "y": {"field": "d0", "type": "quantitative", "scale": {"domain": [0, 100], "range": [485, 1959], "nice": false, "zero": false}, "axis": null},
        "y2": {"field": "d1"}
      }
    },
    {
      "data": {"name": "bands"},
      "transform": [{"filter": "datum.k == 'blue'"}],
      "mark": {"type": "rect", "fill": {"gradient": "linear", "x1": 0, "y1": 0, "x2": 0, "y2": 1, "stops": [{"offset": 0, "color": "rgba(180,228,247,0)"}, {"offset": 0.16, "color": "rgba(180,228,247,0.15)"}, {"offset": 0.32, "color": "rgba(180,228,247,0.5)"}, {"offset": 0.5, "color": "rgba(180,228,247,1)"}, {"offset": 0.68, "color": "rgba(180,228,247,0.5)"}, {"offset": 0.84, "color": "rgba(180,228,247,0.15)"}, {"offset": 1, "color": "rgba(180,228,247,0)"}]}},
      "encoding": {
        "x": {"datum": 0, "type": "quantitative", "scale": {"domain": [0, 15], "range": [1138, 1842], "nice": false, "zero": false}, "axis": null},
        "x2": {"datum": 15},
        "y": {"field": "d0", "type": "quantitative", "scale": {"domain": [0, 100], "range": [485, 1959], "nice": false, "zero": false}, "axis": null},
        "y2": {"field": "d1"}
      }
    },
    {
      "data": {"name": "p2"},
      "mark": {"type": "area", "orient": "horizontal", "interpolate": "step-before", "fill": "#f5b9da", "blend": "multiply"},
      "encoding": {
        "y": {"field": "d", "type": "quantitative", "scale": {"domain": [0, 100], "range": [485, 1959], "nice": false, "zero": false}, "axis": null},
        "x": {"field": "v", "type": "quantitative", "stack": null, "scale": {"domain": [0, 15], "range": [1138, 1842], "nice": false, "zero": false}, "axis": null},
        "x2": {"datum": 0}
      }
    },
    {
      "data": {"values": [{"g": 5}, {"g": 10}]},
      "mark": {"type": "rule", "stroke": "#5a5a5a", "strokeWidth": 2},
      "encoding": {
        "x": {"field": "g", "type": "quantitative", "scale": {"domain": [0, 15], "range": [1138, 1842], "nice": false, "zero": false}, "axis": null},
        "y": {"datum": -0.27, "type": "quantitative", "scale": {"domain": [0, 100], "range": [485, 1959], "nice": false, "zero": false},
              "axis": {"orient": "right", "offset": -2126, "values": [20, 40, 60, 80, 100], "domain": false, "ticks": true, "tickSize": 10, "tickWidth": 2, "tickColor": "#555555", "labels": false, "title": null, "zindex": 1}},
        "y2": {"datum": 112}
      }
    },
    {
      "data": {"name": "p2"},
      "mark": {"type": "line", "interpolate": "step-before", "stroke": "#e8177f", "strokeWidth": 3.5},
      "encoding": {
        "y": {"field": "d", "type": "quantitative", "scale": {"domain": [0, 100], "range": [485, 1959], "nice": false, "zero": false}, "axis": null},
        "x": {"field": "v", "type": "quantitative", "scale": {"domain": [0, 15], "range": [1138, 1842], "nice": false, "zero": false}, "axis": null},
        "order": {"field": "d", "type": "quantitative"}
      }
    },
    {
      "data": {"values": [{}]},
      "mark": {"type": "rect", "filled": false, "stroke": "#808080", "strokeWidth": 3},
      "encoding": {
        "x": {"datum": 0, "type": "quantitative", "scale": {"domain": [0, 15], "range": [1138, 1842], "nice": false, "zero": false},
              "axis": {"orient": "top", "offset": -432, "values": [0, 5, 10, 15], "format": "d", "domain": false, "ticks": false, "labelPadding": 0, "labelBaseline": "middle", "labelAlign": "center", "labelOffset": 6, "labelFont": "Liberation Sans, Arial, sans-serif", "labelFontSize": 58, "labelColor": "#1a1a1a",
                       "title": "泥岩1mあたりの砂岩層数", "titleFont": "Noto Sans CJK JP, sans-serif", "titleFontSize": 59, "titleColor": "#231815", "titleX": 1541, "titleY": -50, "titleAlign": "center", "titleBaseline": "alphabetic", "titleAngle": 0}},
        "x2": {"datum": 15},
        "y": {"datum": -0.27, "type": "quantitative", "scale": {"domain": [0, 100], "range": [485, 1959], "nice": false, "zero": false}, "axis": null},
        "y2": {"datum": 112}
      }
    },
    {
      "data": {"name": "mispanel"},
      "mark": {"type": "text", "align": "center", "baseline": "middle", "font": "Liberation Sans, Arial, sans-serif", "fontSize": 58, "fill": "#1a72bb"},
      "encoding": {
        "x": {"field": "v", "type": "quantitative", "scale": {"domain": [0, 15], "range": [1138, 1842], "nice": false, "zero": false}, "axis": null},
        "y": {"field": "d", "type": "quantitative", "scale": {"domain": [0, 100], "range": [485, 1959], "nice": false, "zero": false}, "axis": null},
        "text": {"field": "n"}
      }
    },

    {
      "data": {"name": "bands"},
      "transform": [{"filter": "datum.k == 'pink'"}],
      "mark": {"type": "rect", "fill": {"gradient": "linear", "x1": 0, "y1": 0, "x2": 0, "y2": 1, "stops": [{"offset": 0, "color": "rgba(248,208,196,0)"}, {"offset": 0.16, "color": "rgba(248,208,196,0.15)"}, {"offset": 0.32, "color": "rgba(248,208,196,0.5)"}, {"offset": 0.5, "color": "rgba(248,208,196,1)"}, {"offset": 0.68, "color": "rgba(248,208,196,0.5)"}, {"offset": 0.84, "color": "rgba(248,208,196,0.15)"}, {"offset": 1, "color": "rgba(248,208,196,0)"}]}},
      "encoding": {
        "x": {"datum": 10, "type": "quantitative", "scale": {"type": "log", "domain": [10, 10000], "range": [1873, 2488], "nice": false}, "axis": null},
        "x2": {"datum": 10000},
        "y": {"field": "d0", "type": "quantitative", "scale": {"domain": [0, 100], "range": [485, 1959], "nice": false, "zero": false}, "axis": null},
        "y2": {"field": "d1"}
      }
    },
    {
      "data": {"name": "bands"},
      "transform": [{"filter": "datum.k == 'blue'"}],
      "mark": {"type": "rect", "fill": {"gradient": "linear", "x1": 0, "y1": 0, "x2": 0, "y2": 1, "stops": [{"offset": 0, "color": "rgba(180,228,247,0)"}, {"offset": 0.16, "color": "rgba(180,228,247,0.15)"}, {"offset": 0.32, "color": "rgba(180,228,247,0.5)"}, {"offset": 0.5, "color": "rgba(180,228,247,1)"}, {"offset": 0.68, "color": "rgba(180,228,247,0.5)"}, {"offset": 0.84, "color": "rgba(180,228,247,0.15)"}, {"offset": 1, "color": "rgba(180,228,247,0)"}]}},
      "encoding": {
        "x": {"datum": 10, "type": "quantitative", "scale": {"type": "log", "domain": [10, 10000], "range": [1873, 2488], "nice": false}, "axis": null},
        "x2": {"datum": 10000},
        "y": {"field": "d0", "type": "quantitative", "scale": {"domain": [0, 100], "range": [485, 1959], "nice": false, "zero": false}, "axis": null},
        "y2": {"field": "d1"}
      }
    },
    {
      "data": {"name": "logGrid"},
      "transform": [{"filter": "datum.g != 100 && datum.g != 1000"}],
      "mark": {"type": "rule", "stroke": "#5f5f5f", "strokeWidth": 1.6},
      "encoding": {
        "x": {"field": "g", "type": "quantitative", "scale": {"type": "log", "domain": [10, 10000], "range": [1873, 2488], "nice": false}, "axis": null},
        "y": {"datum": -0.27, "type": "quantitative", "scale": {"domain": [0, 100], "range": [485, 1959], "nice": false, "zero": false}, "axis": null},
        "y2": {"datum": 112}
      }
    },
    {
      "data": {"name": "logGrid"},
      "transform": [{"filter": "datum.g == 100 || datum.g == 1000"}],
      "mark": {"type": "rule", "stroke": "#2a2a2a", "strokeWidth": 2.2},
      "encoding": {
        "x": {"field": "g", "type": "quantitative", "scale": {"type": "log", "domain": [10, 10000], "range": [1873, 2488], "nice": false}, "axis": null},
        "y": {"datum": -0.27, "type": "quantitative", "scale": {"domain": [0, 100], "range": [485, 1959], "nice": false, "zero": false},
              "axis": {"orient": "right", "offset": -1391, "values": [20, 40, 60, 80, 100], "domain": false, "ticks": true, "tickSize": 10, "tickWidth": 2, "tickColor": "#555555", "labels": false, "title": null, "zindex": 1}},
        "y2": {"datum": 112}
      }
    },
    {
      "data": {"values": [{}]},
      "mark": {"type": "rect", "filled": false, "stroke": "#808080", "strokeWidth": 3},
      "encoding": {
        "x": {"datum": 10, "type": "quantitative", "scale": {"type": "log", "domain": [10, 10000], "range": [1873, 2488], "nice": false},
              "axis": {"orient": "top", "offset": -432, "values": [100, 1000], "format": "d", "domain": false, "ticks": false, "labelPadding": 0, "labelBaseline": "middle", "labelAlign": "center", "labelOffset": 25, "labelFont": "Liberation Sans, Arial, sans-serif", "labelFontSize": 58, "labelColor": "#1a1a1a",
                       "title": "砂岩層最大帯磁率", "titleFont": "Noto Sans CJK JP, sans-serif", "titleFontSize": 62, "titleColor": "#231815", "titleX": 2210, "titleY": -50, "titleAlign": "center", "titleBaseline": "alphabetic", "titleAngle": 0}},
        "x2": {"datum": 10000},
        "y": {"datum": -0.27, "type": "quantitative", "scale": {"domain": [0, 100], "range": [485, 1959], "nice": false, "zero": false}, "axis": null},
        "y2": {"datum": 112}
      }
    },
    {
      "data": {"name": "p3"},
      "mark": {"type": "point", "shape": "diamond", "filled": true, "fill": "#fff000", "stroke": "#4f4f9f", "strokeWidth": 1.3, "size": 360, "opacity": 1},
      "encoding": {
        "x": {"field": "m", "type": "quantitative", "scale": {"type": "log", "domain": [10, 10000], "range": [1873, 2488], "nice": false}, "axis": null},
        "y": {"field": "d", "type": "quantitative", "scale": {"domain": [0, 100], "range": [485, 1959], "nice": false, "zero": false}, "axis": null}
      }
    },
    {
      "data": {"values": [{}]},
      "mark": {"type": "text", "text": "×10", "align": "left", "baseline": "alphabetic", "dx": 100, "font": "Liberation Serif, DejaVu Serif, serif", "fontSize": 54, "fill": "#1a1a1a"},
      "encoding": {
        "x": {"datum": 1000, "type": "quantitative", "scale": {"type": "log", "domain": [10, 10000], "range": [1873, 2488], "nice": false}, "axis": null},
        "y": {"datum": -2.578, "type": "quantitative", "scale": {"domain": [0, 100], "range": [485, 1959], "nice": false, "zero": false}, "axis": null}
      }
    },
    {
      "data": {"values": [{}]},
      "mark": {"type": "text", "text": "−5", "align": "left", "baseline": "alphabetic", "dx": 190, "font": "Liberation Serif, DejaVu Serif, serif", "fontSize": 50, "fill": "#1a1a1a"},
      "encoding": {
        "x": {"datum": 1000, "type": "quantitative", "scale": {"type": "log", "domain": [10, 10000], "range": [1873, 2488], "nice": false}, "axis": null},
        "y": {"datum": -4.1, "type": "quantitative", "scale": {"domain": [0, 100], "range": [485, 1959], "nice": false, "zero": false}, "axis": null}
      }
    },
    {
      "data": {"values": [{}]},
      "mark": {"type": "text", "text": "SI", "align": "left", "baseline": "alphabetic", "dx": 250, "font": "Liberation Serif, DejaVu Serif, serif", "fontSize": 54, "fill": "#1a1a1a"},
      "encoding": {
        "x": {"datum": 1000, "type": "quantitative", "scale": {"type": "log", "domain": [10, 10000], "range": [1873, 2488], "nice": false}, "axis": null},
        "y": {"datum": -2.578, "type": "quantitative", "scale": {"domain": [0, 100], "range": [485, 1959], "nice": false, "zero": false}, "axis": null}
      }
    },

    {
      "data": {"name": "tephra"},
      "mark": {"type": "rule", "stroke": "#ee2a2a", "strokeWidth": 4.5, "strokeDash": [32, 32]},
      "encoding": {
        "x": {"datum": 0.5, "type": "quantitative", "scale": {"domain": [0, 10], "range": [547, 1014], "nice": false, "zero": false}, "axis": null},
        "x2": {"datum": 41.6},
        "y": {"field": "d", "type": "quantitative", "scale": {"domain": [0, 100], "range": [485, 1959], "nice": false, "zero": false}, "axis": null}
      }
    },

    {
      "data": {"name": "tephra"},
      "mark": {"type": "rule", "stroke": "#ee2a2a", "strokeWidth": 4.5, "strokeDash": [32, 32]},
      "encoding": {
        "x": {"datum": 1.9, "type": "quantitative", "scale": {"domain": [2.5, 3.7], "range": [2613, 2874], "nice": false, "zero": false}, "axis": null},
        "x2": {"datum": 2.5},
        "y": {"field": "a0", "type": "quantitative", "scale": {"domain": [0.98, 1.11], "range": [219, 1879], "nice": false, "zero": false}, "axis": null},
        "y2": {"field": "a"}
      }
    },
    {
      "data": {"name": "tephra"},
      "mark": {"type": "rule", "stroke": "#ee2a2a", "strokeWidth": 4.5, "strokeDash": [32, 32], "strokeDashOffset": 16},
      "encoding": {
        "x": {"datum": 2.5, "type": "quantitative", "scale": {"domain": [2.5, 3.7], "range": [2613, 2874], "nice": false, "zero": false}, "axis": null},
        "x2": {"datum": 3.7},
        "y": {"field": "a", "type": "quantitative", "scale": {"domain": [0.98, 1.11], "range": [219, 1879], "nice": false, "zero": false}, "axis": null}
      }
    },
    {
      "data": {"name": "dots"},
      "mark": {"type": "rule", "stroke": "#e5007f", "strokeWidth": 3, "strokeDash": [10, 7]},
      "encoding": {
        "x": {"datum": 2.5, "type": "quantitative", "scale": {"domain": [2.5, 3.7], "range": [2613, 2874], "nice": false, "zero": false}, "axis": null},
        "x2": {"datum": 3.7},
        "y": {"field": "a", "type": "quantitative", "scale": {"domain": [0.98, 1.11], "range": [219, 1879], "nice": false, "zero": false}, "axis": null}
      }
    },
    {
      "data": {"values": [{"o": 3.3}, {"o": 3.7}]},
      "mark": {"type": "rule", "stroke": "#111111", "strokeWidth": 3.5},
      "encoding": {
        "x": {"field": "o", "type": "quantitative", "scale": {"domain": [2.5, 3.7], "range": [2613, 2874], "nice": false, "zero": false}, "axis": null},
        "y": {"datum": 0.98, "type": "quantitative", "scale": {"domain": [0.98, 1.11], "range": [219, 1879], "nice": false, "zero": false},
              "axis": {"orient": "right", "offset": -654, "values": [0.98337, 0.99746, 1.01148, 1.02566, 1.03983, 1.05393, 1.06779, 1.08173, 1.09583], "domain": true, "domainColor": "#111111", "domainWidth": 4.5, "ticks": true, "tickSize": 9, "tickWidth": 3, "tickColor": "#111111", "labels": false, "title": null, "zindex": 1}},
        "y2": {"datum": 1.11}
      }
    },
    {
      "data": {"values": [{}]},
      "mark": {"type": "rule", "stroke": "#111111", "strokeWidth": 4},
      "encoding": {
        "x": {"datum": 2.5, "type": "quantitative", "scale": {"domain": [2.5, 3.7], "range": [2613, 2874], "nice": false, "zero": false}, "axis": null},
        "x2": {"datum": 4.23},
        "y": {"datum": 0.98016, "type": "quantitative", "scale": {"domain": [0.98, 1.11], "range": [219, 1879], "nice": false, "zero": false}, "axis": null}
      }
    },
    {
      "data": {"values": [{}]},
      "mark": {"type": "rule", "stroke": "#111111", "strokeWidth": 3.5},
      "encoding": {
        "x": {"datum": 2.5, "type": "quantitative", "scale": {"domain": [2.5, 3.7], "range": [2613, 2874], "nice": false, "zero": false}, "axis": null},
        "x2": {"datum": 3.7},
        "y": {"datum": 1.11, "type": "quantitative", "scale": {"domain": [0.98, 1.11], "range": [219, 1879], "nice": false, "zero": false}, "axis": null}
      }
    },
    {
      "data": {"name": "d18o"},
      "mark": {"type": "line", "interpolate": "catmull-rom", "stroke": "#13b5ea", "strokeWidth": 13, "strokeJoin": "round"},
      "encoding": {
        "x": {"field": "o", "type": "quantitative", "scale": {"domain": [2.5, 3.7], "range": [2613, 2874], "nice": false, "zero": false},
              "axis": {"orient": "top", "offset": -194, "values": [2.5, 3.3, 3.7], "format": ".1f", "domain": false, "ticks": false, "labelPadding": 0, "labelBaseline": "middle", "labelAlign": "center", "labelOffset": 12, "labelFont": "Liberation Serif, DejaVu Serif, serif", "labelFontSize": 58, "labelColor": "#1a1a1a", "title": null}},
        "y": {"field": "a", "type": "quantitative", "scale": {"domain": [0.98, 1.11], "range": [219, 1879], "nice": false, "zero": false},
              "axis": {"orient": "right", "offset": -390, "values": [1.05, 1.11], "format": ".2f", "domain": false, "ticks": true, "tickSize": 126, "tickWidth": 3, "tickColor": "#111111", "labelPadding": -18, "labelAlign": "left",
                       "labelBaseline": {"condition": {"test": "datum.value > 1.08", "value": "alphabetic"}, "value": "middle"},
                       "labelOffset": {"condition": {"test": "datum.value > 1.08", "value": 0}, "value": 10},
                       "labelFont": "Liberation Sans, Arial, sans-serif", "labelFontStyle": "italic", "labelFontSize": 62, "labelColor": "#1a78c2", "title": null, "zindex": 1}},
        "order": {"field": "a", "type": "quantitative"}
      }
    },
    {
      "data": {"name": "ties"},
      "mark": {"type": "point", "shape": "M0,-1.2L0.95,0L0,1.2L-0.95,0Z", "filled": true, "fill": "#ffffff", "stroke": "#111111", "strokeWidth": 2, "size": 256, "opacity": 1},
      "encoding": {
        "x": {"datum": 2.5, "type": "quantitative", "scale": {"domain": [2.5, 3.7], "range": [2613, 2874], "nice": false, "zero": false}, "axis": null},
        "y": {"field": "a", "type": "quantitative", "scale": {"domain": [0.98, 1.11], "range": [219, 1879], "nice": false, "zero": false}, "axis": null}
      }
    },
    {
      "data": {"name": "tephra"},
      "mark": {"type": "text", "align": "left", "baseline": "alphabetic", "font": "Liberation Sans, Arial, sans-serif", "fontSize": 61, "fill": "#1a1a1a"},
      "encoding": {
        "x": {"field": "lx", "type": "quantitative", "scale": {"domain": [2.5, 3.7], "range": [2613, 2874], "nice": false, "zero": false}, "axis": null},
        "y": {"field": "la", "type": "quantitative", "scale": {"domain": [0.98, 1.11], "range": [219, 1879], "nice": false, "zero": false}, "axis": null},
        "text": {"field": "t"}
      }
    },
    {
      "data": {"name": "mis"},
      "mark": {"type": "text", "align": "center", "baseline": "middle", "font": "Roboto, Liberation Sans, sans-serif", "fontWeight": 900, "fontSize": 62},
      "encoding": {
        "x": {"field": "x", "type": "quantitative", "scale": {"domain": [2.5, 3.7], "range": [2613, 2874], "nice": false, "zero": false}, "axis": null},
        "y": {"field": "a", "type": "quantitative", "scale": {"domain": [0.98, 1.11], "range": [219, 1879], "nice": false, "zero": false}, "axis": null},
        "text": {"field": "n"},
        "color": {"field": "k", "type": "nominal", "scale": {"domain": ["glacial", "interglacial"], "range": ["#ee2b24", "#1c4f9c"]}, "legend": null}
      }
    },
    {
      "data": {"values": [{}]},
      "mark": {"type": "text", "text": "TR-3", "align": "left", "baseline": "alphabetic", "font": "Liberation Sans, Arial, sans-serif", "fontSize": 68, "fill": "#111111"},
      "encoding": {
        "x": {"datum": 1.755, "type": "quantitative", "scale": {"domain": [2.5, 3.7], "range": [2613, 2874], "nice": false, "zero": false}, "axis": null},
        "y": {"datum": 0.97366, "type": "quantitative", "scale": {"domain": [0.98, 1.11], "range": [219, 1879], "nice": false, "zero": false}, "axis": null}
      }
    },
    {
      "data": {"values": [{}]},
      "mark": {"type": "text", "text": "δ", "align": "left", "baseline": "alphabetic", "font": "Liberation Serif, DejaVu Serif, serif", "fontSize": 76, "fill": "#111111"},
      "encoding": {
        "x": {"datum": 2.578, "type": "quantitative", "scale": {"domain": [2.5, 3.7], "range": [2613, 2874], "nice": false, "zero": false}, "axis": null},
        "y": {"datum": 0.97405, "type": "quantitative", "scale": {"domain": [0.98, 1.11], "range": [219, 1879], "nice": false, "zero": false}, "axis": null}
      }
    },
    {
      "data": {"values": [{}]},
      "mark": {"type": "text", "text": "18", "align": "left", "baseline": "alphabetic", "font": "Liberation Serif, DejaVu Serif, serif", "fontSize": 46, "fill": "#111111"},
      "encoding": {
        "x": {"datum": 2.7345, "type": "quantitative", "scale": {"domain": [2.5, 3.7], "range": [2613, 2874], "nice": false, "zero": false}, "axis": null},
        "y": {"datum": 0.97209, "type": "quantitative", "scale": {"domain": [0.98, 1.11], "range": [219, 1879], "nice": false, "zero": false}, "axis": null}
      }
    },
    {
      "data": {"values": [{}]},
      "mark": {"type": "text", "text": "O", "align": "left", "baseline": "alphabetic", "font": "Liberation Serif, DejaVu Serif, serif", "fontSize": 80, "fill": "#111111"},
      "encoding": {
        "x": {"datum": 2.955, "type": "quantitative", "scale": {"domain": [2.5, 3.7], "range": [2613, 2874], "nice": false, "zero": false}, "axis": null},
        "y": {"datum": 0.97405, "type": "quantitative", "scale": {"domain": [0.98, 1.11], "range": [219, 1879], "nice": false, "zero": false}, "axis": null}
      }
    },
    {
      "data": {"values": [{}]},
      "mark": {"type": "text", "text": "PDB‰", "align": "left", "baseline": "alphabetic", "font": "Liberation Serif, DejaVu Serif, serif", "fontSize": 52, "fill": "#111111"},
      "encoding": {
        "x": {"datum": 3.28, "type": "quantitative", "scale": {"domain": [2.5, 3.7], "range": [2613, 2874], "nice": false, "zero": false}, "axis": null},
        "y": {"datum": 0.97405, "type": "quantitative", "scale": {"domain": [0.98, 1.11], "range": [219, 1879], "nice": false, "zero": false}, "axis": null}
      }
    },
    {
      "data": {"values": [{}]},
      "mark": {"type": "text", "text": "年代", "align": "center", "baseline": "alphabetic", "font": "Noto Sans CJK JP, sans-serif", "fontSize": 44, "fill": "#1a78c2"},
      "encoding": {
        "x": {"datum": 4.468, "type": "quantitative", "scale": {"domain": [2.5, 3.7], "range": [2613, 2874], "nice": false, "zero": false}, "axis": null},
        "y": {"datum": 0.9717, "type": "quantitative", "scale": {"domain": [0.98, 1.11], "range": [219, 1879], "nice": false, "zero": false}, "axis": null}
      }
    },
    {
      "data": {"values": [{}]},
      "mark": {"type": "text", "text": "(Ma)", "align": "center", "baseline": "alphabetic", "font": "Liberation Sans, Arial, sans-serif", "fontStyle": "italic", "fontSize": 44, "fill": "#1a78c2"},
      "encoding": {
        "x": {"datum": 4.518, "type": "quantitative", "scale": {"domain": [2.5, 3.7], "range": [2613, 2874], "nice": false, "zero": false}, "axis": null},
        "y": {"datum": 0.97679, "type": "quantitative", "scale": {"domain": [0.98, 1.11], "range": [219, 1879], "nice": false, "zero": false}, "axis": null}
      }
    },
    {
      "data": {"values": [{}]},
      "mark": {"type": "text", "text": "(TR-3は辻ほか1999を一部改変)", "align": "center", "baseline": "alphabetic", "font": "Noto Sans CJK JP, sans-serif", "fontWeight": "bold", "fontSize": 44, "fill": "#1a1a1a"},
      "encoding": {
        "x": {"datum": 3.544, "type": "quantitative", "scale": {"domain": [2.5, 3.7], "range": [2613, 2874], "nice": false, "zero": false}, "axis": null},
        "y": {"datum": 1.11595, "type": "quantitative", "scale": {"domain": [0.98, 1.11], "range": [219, 1879], "nice": false, "zero": false}, "axis": null}
      }
    }
  ],
  "resolve": {"scale": {"x": "independent", "y": "independent", "color": "independent"}}
}
